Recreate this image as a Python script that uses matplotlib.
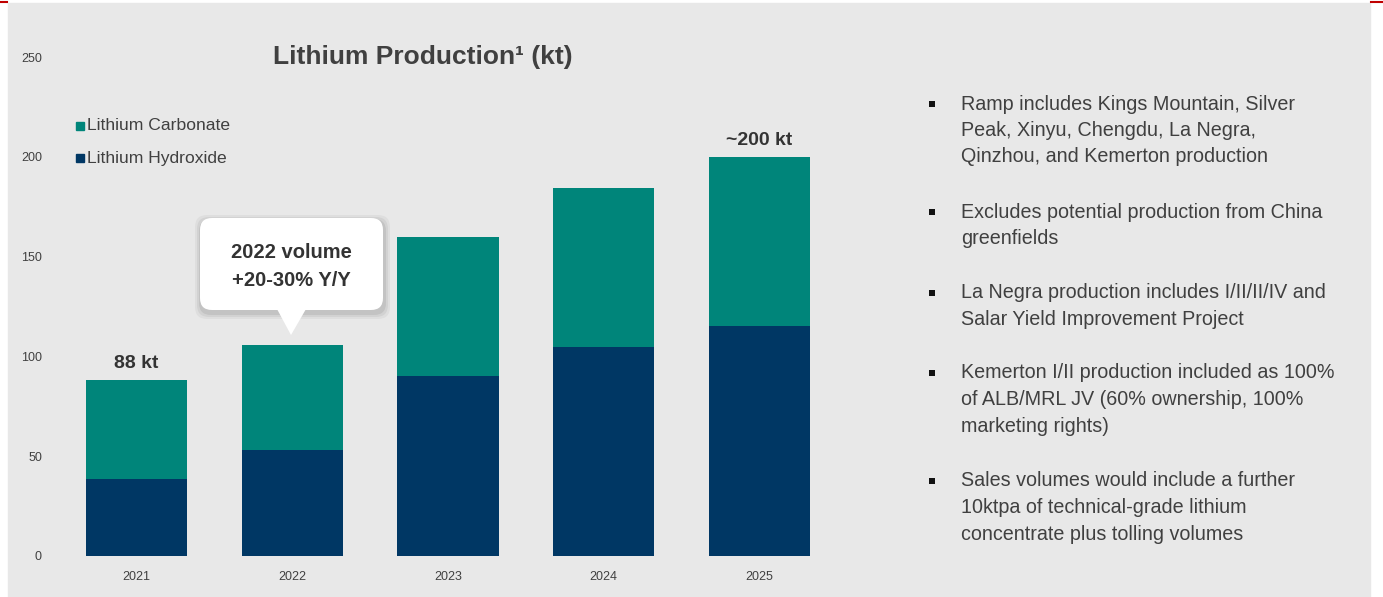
import matplotlib.pyplot as plt
from matplotlib.patches import Rectangle, FancyBboxPatch, Polygon

plt.rcParams['font.family'] = ['Liberation Sans', 'DejaVu Sans']

# ===== DATA =====
years = ['2021', '2022', '2023', '2024', '2025']
hydroxide = [38.5, 53, 90, 104.5, 115]
carbonate = [49.5, 52.5, 70, 80, 85]
total_labels = {0: '88 kt', 4: '~200 kt'}
y_ticks = [0, 50, 100, 150, 200, 250]

notes = [
    ["Ramp includes Kings Mountain, Silver", "Peak, Xinyu, Chengdu, La Negra,", "Qinzhou, and Kemerton production"],
    ["Excludes potential production from China", "greenfields"],
    ["La Negra production includes I/II/II/IV and", "Salar Yield Improvement Project"],
    ["Kemerton I/II production included as 100%", "of ALB/MRL JV (60% ownership, 100%", "marketing rights)"],
    ["Sales volumes would include a further", "10ktpa of technical-grade lithium", "concentrate plus tolling volumes"],
]
note_y = [104, 212, 293, 373, 481]

TEAL = '#00857a'
NAVY = '#003764'
TXT = '#404040'
W, H = 1383, 597

fig = plt.figure(figsize=(W / 100, H / 100), dpi=100)
fig.patch.set_facecolor('white')

# background layer in pixel coords
bg = fig.add_axes([0, 0, 1, 1], zorder=0)
bg.set_xlim(0, W)
bg.set_ylim(H, 0)
bg.axis('off')
bg.add_patch(Rectangle((8, 3), 1362, 600, color='#e8e8e8'))
bg.plot([0, 7], [2, 2], color='#c00000', lw=1.5)
bg.plot([1371, W], [2, 2], color='#c00000', lw=1.5)

# ===== CHART =====
ax = fig.add_axes([58.6 / W, 1 - 556 / H, (837.4 - 58.6) / W, (556 - 57) / H], zorder=1)
ax.patch.set_alpha(0)
x = range(len(years))
ax.bar(x, hydroxide, width=0.65, color=NAVY, label='Lithium Hydroxide')
ax.bar(x, carbonate, width=0.65, bottom=hydroxide, color=TEAL, label='Lithium Carbonate')
ax.set_xlim(-0.5, 4.5)
ax.set_ylim(0, 250)
ax.set_yticks(y_ticks)
ax.set_xticks(list(x))
ax.set_xticklabels(years)
ax.tick_params(length=0, labelsize=9, colors=TXT, pad=11)
ax.tick_params(axis='y', pad=12)
for s in ax.spines.values():
    s.set_visible(False)

for i, lab in total_labels.items():
    tot = hydroxide[i] + carbonate[i]
    ax.text(i, tot + 4, lab, ha='center', va='bottom', fontsize=14, fontweight='bold', color='#333333')

# legend
fig.text(87 / W, 1 - 126 / H, 'Lithium Carbonate', fontsize=12.6, color=TXT, va='center')
fig.text(87 / W, 1 - 158 / H, 'Lithium Hydroxide', fontsize=12.6, color=TXT, va='center')
bg.add_patch(Rectangle((76, 122), 8, 8, color=TEAL))
bg.add_patch(Rectangle((76, 154), 8, 8, color=NAVY))

# title
fig.text(423 / W, 1 - 57 / H, 'Lithium Production\u00b9 (kt)', ha='center', va='center',
         fontsize=19, fontweight='bold', color=TXT)

# callout
top = fig.add_axes([0, 0, 1, 1], zorder=3)
top.set_xlim(0, W)
top.set_ylim(H, 0)
top.axis('off')
for d, a in [(6, 0.04), (4, 0.05), (2, 0.07)]:
    top.add_patch(FancyBboxPatch((200 - d + 1, 218 - d + 3), 183 + 2 * d, 92 + 2 * d,
                                 boxstyle='round,pad=0,rounding_size=12', color='black', alpha=a, lw=0))
top.add_patch(FancyBboxPatch((200, 218), 183, 92, boxstyle='round,pad=0,rounding_size=12',
                             color='white', lw=0))
top.add_patch(Polygon([(277, 309), (306, 309), (291, 335)], closed=True, color='white', lw=0))
top.text(291, 253, '2022 volume', ha='center', va='center', fontsize=14.5, fontweight='bold', color='#333333')
top.text(291, 280, '+20-30% Y/Y', ha='center', va='center', fontsize=14.5, fontweight='bold', color='#333333')

# notes
for lines, y0 in zip(notes, note_y):
    top.add_patch(Rectangle((929, y0 - 3.5), 6, 6, color='#111111', lw=0))
    for k, line in enumerate(lines):
        top.text(961, y0 + k * 26.5, line, ha='left', va='center', fontsize=14.2, color=TXT)

fig.savefig('out.png', dpi=100)
